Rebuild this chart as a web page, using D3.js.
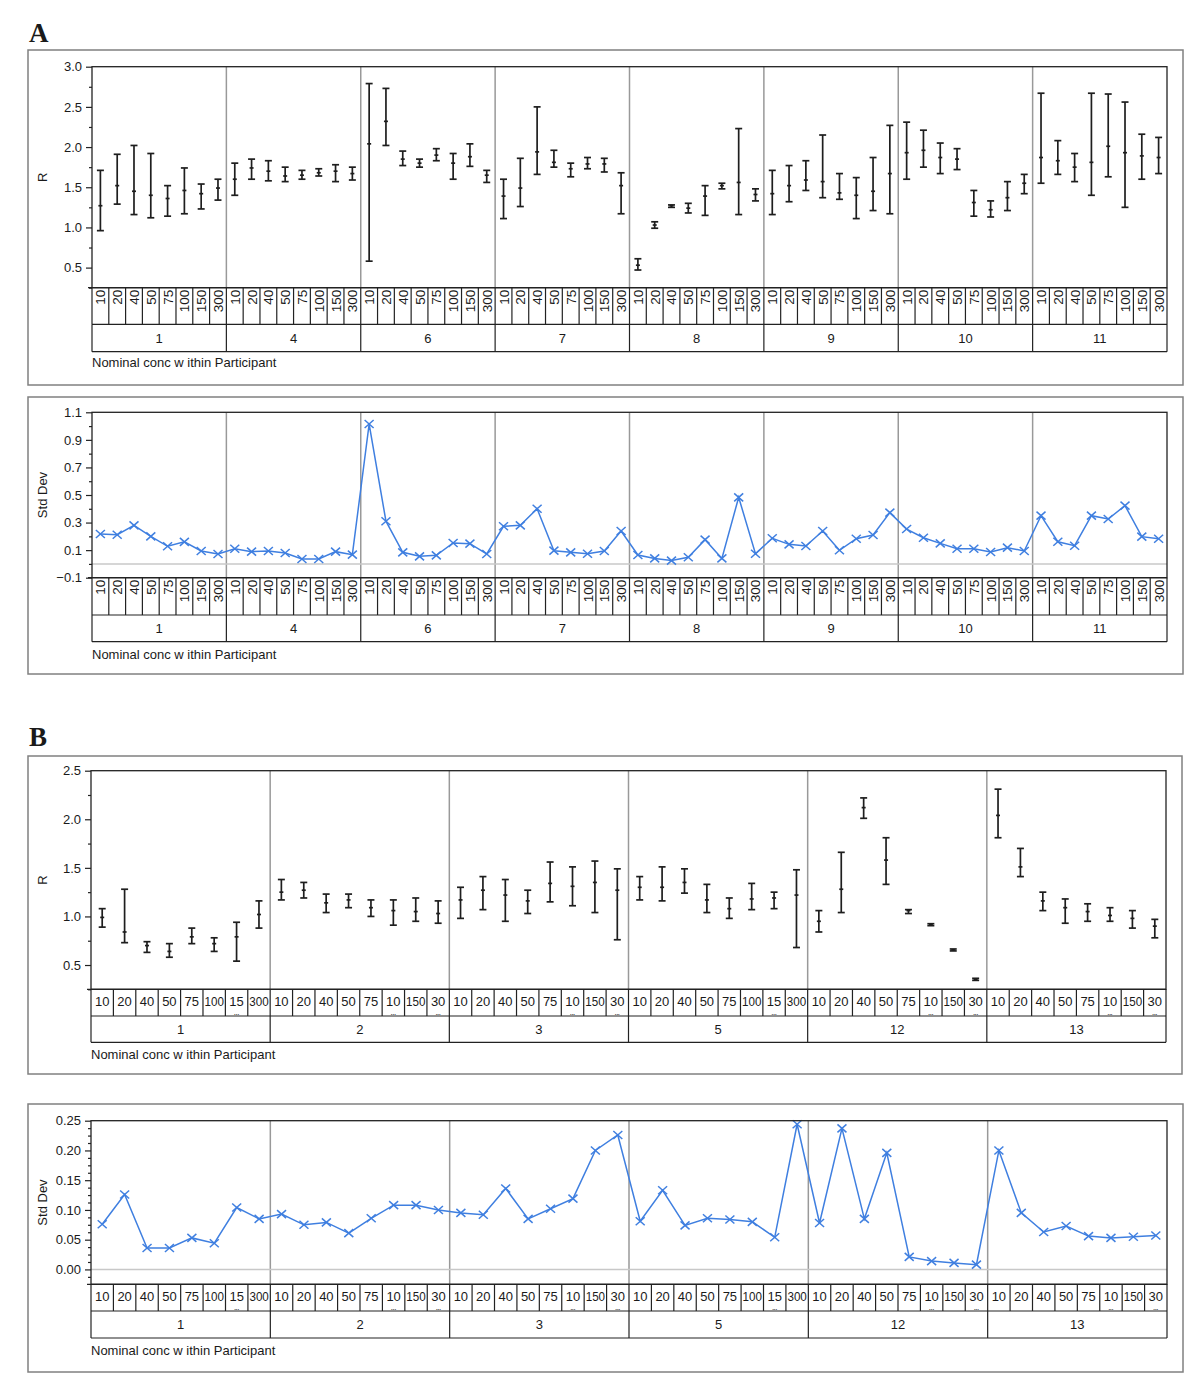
<!DOCTYPE html>
<html><head><meta charset="utf-8">
<script src="https://cdn.jsdelivr.net/npm/d3@7"></script>
<style>
body{margin:0;background:#fff}
svg{display:block}
text{font-family:"Liberation Sans",Arial,sans-serif;fill:#1a1a1a}
</style>
</head><body>
<svg id="chart" width="1200" height="1388"></svg>
<script>
// ---------- Panel A data ----------
const participantsA = ["1","4","6","7","8","9","10","11"];
const concA = ["10","20","40","50","75","100","150","300"];
const meanA = [
 1.27,1.52,1.45,1.40,1.36,1.46,1.42,1.49,
 1.60,1.74,1.70,1.64,1.65,1.68,1.70,1.67,
 2.04,2.32,1.85,1.80,1.90,1.80,1.88,1.65,
 1.39,1.49,1.94,1.81,1.73,1.79,1.79,1.52,
 0.53,1.03,1.27,1.24,1.39,1.52,1.56,1.41,
 1.42,1.52,1.59,1.57,1.43,1.40,1.45,1.67,
 1.93,1.96,1.87,1.85,1.31,1.22,1.37,1.55,
 1.87,1.83,1.75,1.81,2.01,1.93,1.89,1.87];
const lowA = [
 0.96,1.29,1.16,1.12,1.14,1.17,1.23,1.34,
 1.40,1.60,1.58,1.57,1.60,1.64,1.57,1.59,
 0.58,2.02,1.77,1.75,1.83,1.60,1.76,1.56,
 1.11,1.26,1.66,1.75,1.63,1.73,1.69,1.17,
 0.47,0.99,1.25,1.18,1.15,1.48,1.16,1.33,
 1.16,1.32,1.46,1.37,1.35,1.11,1.21,1.17,
 1.60,1.75,1.67,1.72,1.14,1.13,1.21,1.42,
 1.55,1.66,1.57,1.40,1.63,1.25,1.60,1.67];
const highA = [
 1.71,1.91,2.02,1.92,1.52,1.74,1.54,1.60,
 1.80,1.85,1.83,1.75,1.71,1.73,1.78,1.75,
 2.79,2.73,1.95,1.85,1.98,1.92,2.04,1.71,
 1.60,1.86,2.50,1.96,1.80,1.87,1.86,1.68,
 0.61,1.07,1.28,1.30,1.52,1.55,2.23,1.48,
 1.71,1.77,1.83,2.15,1.67,1.62,1.87,2.27,
 2.31,2.21,2.05,1.98,1.46,1.33,1.57,1.66,
 2.67,2.08,1.92,2.67,2.66,2.56,2.16,2.12];
const sdA = [
 0.217,0.212,0.280,0.200,0.128,0.160,0.094,0.072,
 0.110,0.089,0.094,0.079,0.036,0.036,0.089,0.067,
 1.015,0.310,0.084,0.055,0.062,0.152,0.147,0.072,
 0.273,0.280,0.400,0.096,0.084,0.074,0.094,0.239,
 0.065,0.040,0.024,0.048,0.176,0.040,0.483,0.074,
 0.186,0.142,0.130,0.239,0.099,0.183,0.210,0.372,
 0.253,0.190,0.149,0.110,0.110,0.086,0.118,0.094,
 0.350,0.161,0.132,0.350,0.326,0.423,0.198,0.183];
const rTicksA = [0.5,1.0,1.5,2.0,2.5,3.0];
const rMinorA = [0.25,0.75,1.25,1.75,2.25,2.75];
const sdTicksA = [-0.1,0.1,0.3,0.5,0.7,0.9,1.1];
const sdMinorA = [0.0,0.2,0.4,0.6,0.8,1.0];

// ---------- Panel B data ----------
const participantsB = ["1","2","3","5","12","13"];
const concLabelsB = [
 ["10","20","40","50","75","100","15...","300"],
 ["10","20","40","50","75","10...","150","30..."],
 ["10","20","40","50","75","10...","150","30..."],
 ["10","20","40","50","75","100","15...","300"],
 ["10","20","40","50","75","10...","150","30..."],
 ["10","20","40","50","75","10...","150","30..."]];
const meanB = [
 0.99,0.84,0.70,0.64,0.79,0.72,0.79,1.02,
 1.25,1.27,1.14,1.17,1.09,1.06,1.05,1.03,
 1.17,1.27,1.22,1.16,1.34,1.31,1.35,1.27,
 1.30,1.30,1.35,1.17,1.08,1.18,1.19,1.22,
 0.95,1.28,2.12,1.58,1.06,0.915,0.655,0.353,
 2.04,1.51,1.16,1.09,1.05,1.01,0.98,0.90];
const lowB = [
 0.89,0.73,0.63,0.58,0.72,0.64,0.54,0.88,
 1.17,1.19,1.04,1.09,1.00,0.91,0.95,0.93,
 0.98,1.07,0.95,1.03,1.15,1.11,1.04,0.76,
 1.17,1.16,1.24,1.04,0.98,1.07,1.08,0.68,
 0.84,1.04,2.01,1.33,1.03,0.905,0.645,0.342,
 1.81,1.41,1.06,0.93,0.95,0.95,0.88,0.78];
const highB = [
 1.08,1.28,0.74,0.72,0.88,0.78,0.94,1.16,
 1.38,1.35,1.23,1.23,1.17,1.17,1.19,1.16,
 1.30,1.41,1.38,1.27,1.56,1.51,1.57,1.49,
 1.41,1.51,1.49,1.33,1.19,1.34,1.25,1.48,
 1.06,1.66,2.22,1.81,1.07,0.925,0.665,0.363,
 2.31,1.70,1.25,1.18,1.13,1.09,1.06,0.97];
const sdB = [
 0.076,0.126,0.036,0.036,0.053,0.044,0.104,0.085,
 0.093,0.075,0.079,0.061,0.086,0.108,0.108,0.100,
 0.095,0.092,0.136,0.085,0.102,0.119,0.200,0.226,
 0.081,0.133,0.074,0.086,0.084,0.080,0.054,0.244,
 0.078,0.237,0.085,0.196,0.021,0.014,0.011,0.008,
 0.200,0.095,0.063,0.073,0.056,0.053,0.055,0.057];
const rTicksB = [0.5,1.0,1.5,2.0,2.5];
const rMinorB = [0.25,0.75,1.25,1.75,2.25];
const sdTicksB = [0.00,0.05,0.10,0.15,0.20,0.25];
const sdMinorB = [-0.0125,0.0125,0.025,0.0375,0.0625,0.075,0.0875,0.1125,0.125,0.1375,0.1625,0.175,0.1875,0.2125,0.225,0.2375];

const xAxisTitle = "Nominal conc w ithin Participant";
const BLUE = "#3f7fe0";

const svg = d3.select("#chart");

function drawPanel(cfg) {
  const g = svg.append("g");
  const {outer, plot} = cfg;
  g.append("rect").attr("x", outer.x0).attr("y", outer.y0)
    .attr("width", outer.x1 - outer.x0).attr("height", outer.y1 - outer.y0)
    .attr("fill", "none").attr("stroke", "#808080").attr("stroke-width", 1.5);

  const keys = [];
  cfg.participants.forEach((p, gi) => cfg.concLabels[gi].forEach((c, ci) => keys.push(gi + "|" + ci)));
  const x = d3.scaleBand().domain(keys).range([plot.x0, plot.x1]).padding(0);
  const xg = d3.scaleBand().domain(cfg.participants).range([plot.x0, plot.x1]).padding(0);
  const y = d3.scaleLinear().domain(cfg.yDomain).range([plot.y1, plot.y0]);

  cfg.participants.slice(1).forEach(p => {
    g.append("line").attr("x1", xg(p)).attr("x2", xg(p))
      .attr("y1", plot.y0).attr("y2", plot.y1)
      .attr("stroke", "#999").attr("stroke-width", 1.5);
  });

  if (cfg.zeroLine) {
    g.append("line").attr("x1", plot.x0).attr("x2", plot.x1)
      .attr("y1", y(0)).attr("y2", y(0))
      .attr("stroke", "#c8c8c8").attr("stroke-width", 1.5);
  }

  const ax = g.append("g").attr("transform", `translate(${plot.x0},0)`)
    .call(d3.axisLeft(y).tickValues(cfg.ticks).tickSize(6).tickSizeOuter(0).tickFormat(d3.format(cfg.fmt)));
  ax.select(".domain").remove();
  ax.selectAll("line").attr("stroke", "#222").attr("stroke-width", 1.2);
  ax.selectAll("text").attr("font-size", 13).attr("font-family", '"Liberation Sans",Arial,sans-serif').attr("fill", "#1a1a1a").attr("dx", "-1");
  const axm = g.append("g").attr("transform", `translate(${plot.x0},0)`)
    .call(d3.axisLeft(y).tickValues(cfg.minor).tickSize(3).tickSizeOuter(0).tickFormat(""));
  axm.select(".domain").remove();
  axm.selectAll("line").attr("stroke", "#222").attr("stroke-width", 1.2);

  g.append("text").attr("transform", `translate(${outer.x0 + 19},${(plot.y0 + plot.y1) / 2}) rotate(-90)`)
    .attr("text-anchor", "middle").attr("font-size", 13).text(cfg.yLabel);

  if (cfg.kind === "err") {
    const mk = g.append("g").attr("stroke", "#1e1e1e").attr("stroke-width", 1.7).attr("fill", "none");
    keys.forEach((k, i) => {
      const cx = x(k) + x.bandwidth() / 2;
      const yl = y(cfg.low[i]), yh = y(cfg.high[i]), ym = y(cfg.mean[i]);
      mk.append("line").attr("x1", cx).attr("x2", cx).attr("y1", yl).attr("y2", yh);
      mk.append("line").attr("x1", cx - 3.5).attr("x2", cx + 3.5).attr("y1", yl).attr("y2", yl);
      mk.append("line").attr("x1", cx - 3.5).attr("x2", cx + 3.5).attr("y1", yh).attr("y2", yh);
      mk.append("line").attr("x1", cx - 2).attr("x2", cx + 2).attr("y1", ym).attr("y2", ym);
    });
  } else {
    const pts = keys.map((k, i) => [x(k) + x.bandwidth() / 2, y(cfg.values[i])]);
    g.append("path").attr("d", d3.line()(pts)).attr("fill", "none")
      .attr("stroke", BLUE).attr("stroke-width", 1.5);
    const mk = g.append("g").attr("stroke", BLUE).attr("stroke-width", 1.5);
    pts.forEach(([px, py]) => {
      mk.append("line").attr("x1", px - 4.5).attr("x2", px + 4.5).attr("y1", py - 4).attr("y2", py + 4);
      mk.append("line").attr("x1", px - 4.5).attr("x2", px + 4.5).attr("y1", py + 4).attr("y2", py - 4);
    });
  }

  g.append("rect").attr("x", plot.x0).attr("y", plot.y0)
    .attr("width", plot.x1 - plot.x0).attr("height", plot.y1 - plot.y0)
    .attr("fill", "none").attr("stroke", "#222").attr("stroke-width", 1.3);

  const r0 = plot.y1, r1 = plot.y1 + cfg.catH, r2 = r1 + cfg.partH;
  const rows = g.append("g").attr("stroke", "#222").attr("stroke-width", 1.2);
  rows.append("line").attr("x1", plot.x0 - 4).attr("x2", plot.x1).attr("y1", r0).attr("y2", r0);
  rows.append("line").attr("x1", plot.x0).attr("x2", plot.x1).attr("y1", r1).attr("y2", r1);
  rows.append("line").attr("x1", plot.x0).attr("x2", plot.x1).attr("y1", r2).attr("y2", r2);
  keys.forEach(k => {
    rows.append("line").attr("x1", x(k)).attr("x2", x(k)).attr("y1", r0).attr("y2", r1);
  });
  rows.append("line").attr("x1", plot.x1).attr("x2", plot.x1).attr("y1", r0).attr("y2", r2);
  cfg.participants.forEach(p => {
    rows.append("line").attr("x1", xg(p)).attr("x2", xg(p)).attr("y1", r1).attr("y2", r2);
  });

  keys.forEach((k, i) => {
    const [gi, ci] = k.split("|").map(Number);
    const lab = cfg.concLabels[gi][ci];
    const cx = x(k) + x.bandwidth() / 2;
    if (cfg.rotated) {
      g.append("text").attr("transform", `translate(${cx + 5},${r0 + 2}) rotate(-90)`)
        .attr("text-anchor", "end").attr("font-size", 13.5).text(lab);
    } else {
      const trunc = lab.endsWith("...");
      const main = trunc ? lab.slice(0, -3) : lab;
      const t = g.append("text").attr("x", cx).attr("y", r0 + 16.5).attr("text-anchor", "middle")
        .attr("font-size", 13).text(main);
      if (main.length >= 3) {
        t.attr("textLength", x.bandwidth() - 3).attr("lengthAdjust", "spacingAndGlyphs");
      }
      if (trunc) {
        g.append("text").attr("x", cx).attr("y", r0 + 25.2).attr("text-anchor", "middle")
          .attr("font-size", 6).attr("font-weight", "bold").attr("fill", "#333").text("...");
      }
    }
  });
  cfg.participants.forEach(p => {
    g.append("text").attr("x", xg(p) + xg.bandwidth() / 2).attr("y", (r1 + r2) / 2 + 4.5)
      .attr("text-anchor", "middle").attr("font-size", 13).text(p);
  });
  g.append("text").attr("x", plot.x0).attr("y", cfg.titleY).attr("font-size", 13)
    .text(xAxisTitle);
}

const concLabelsA = participantsA.map(() => concA);

svg.append("text").attr("x", 29).attr("y", 42)
  .attr("font-weight", "bold").attr("font-size", 27).style("font-family", '"Liberation Serif","Times New Roman",serif').text("A");
svg.append("text").attr("x", 29).attr("y", 746)
  .attr("font-weight", "bold").attr("font-size", 27).style("font-family", '"Liberation Serif","Times New Roman",serif').text("B");

drawPanel({
  outer: {x0: 28, y0: 50, x1: 1183, y1: 385},
  plot: {x0: 92, y0: 66.7, x1: 1167, y1: 287.7},
  catH: 36.6, partH: 27.4, titleY: 367,
  yDomain: [0.25, 3.0], ticks: rTicksA, minor: rMinorA, fmt: ".1f", yLabel: "R",
  participants: participantsA, concLabels: concLabelsA, rotated: true,
  kind: "err", mean: meanA, low: lowA, high: highA
});
drawPanel({
  outer: {x0: 28, y0: 397, x1: 1183, y1: 674},
  plot: {x0: 92, y0: 412.3, x1: 1167, y1: 577.7},
  catH: 37.3, partH: 26.7, titleY: 659,
  yDomain: [-0.1, 1.1], ticks: sdTicksA, minor: sdMinorA, fmt: ".1f", yLabel: "Std Dev",
  participants: participantsA, concLabels: concLabelsA, rotated: true,
  kind: "line", values: sdA, zeroLine: true
});
drawPanel({
  outer: {x0: 28, y0: 756, x1: 1182, y1: 1074},
  plot: {x0: 91, y0: 770.7, x1: 1166, y1: 989.3},
  catH: 26.7, partH: 26.3, titleY: 1059,
  yDomain: [0.25, 2.5], ticks: rTicksB, minor: rMinorB, fmt: ".1f", yLabel: "R",
  participants: participantsB, concLabels: concLabelsB, rotated: false,
  kind: "err", mean: meanB, low: lowB, high: highB
});
drawPanel({
  outer: {x0: 28, y0: 1104, x1: 1183, y1: 1372},
  plot: {x0: 91, y0: 1120.7, x1: 1167, y1: 1284.3},
  catH: 26.7, partH: 27, titleY: 1355,
  yDomain: [-0.025, 0.25], ticks: sdTicksB, minor: sdMinorB, fmt: ".2f", yLabel: "Std Dev",
  participants: participantsB, concLabels: concLabelsB, rotated: false,
  kind: "line", values: sdB, zeroLine: true
});
</script>
</body></html>
